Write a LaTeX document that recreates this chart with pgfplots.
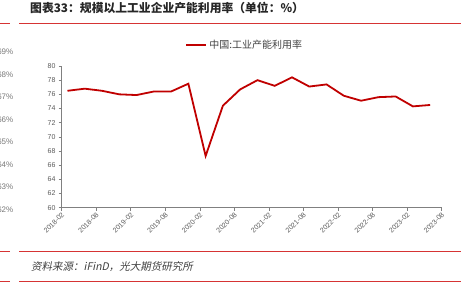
\documentclass[border=0pt]{standalone}
\usepackage{pgfplots}
\pgfplotsset{compat=1.18}
\usepackage{fontspec}
\setmainfont{Liberation Sans}
\newfontfamily\cjk{Noto Sans CJK SC}
\newfontfamily\cjkit{Noto Sans CJK SC}[FakeSlant=0.2]
\definecolor{linered}{RGB}{192,0,0}
\definecolor{hdrred}{RGB}{214,52,52}
\definecolor{axgrey}{RGB}{128,128,128}
\definecolor{txtgrey}{RGB}{89,89,89}
\definecolor{ghost}{RGB}{120,120,120}
\begin{document}
\begin{tikzpicture}[x=1pt,y=1pt]
% title and rules
\node[anchor=west, inner sep=0pt, font=\cjk\bfseries\fontsize{11.8}{12}\selectfont, text=black!85] at (30,276.5) {图表33：规模以上工业企业产能利用率（单位：\%）};
\draw[hdrred, line width=1.1pt] (0,260.5) -- (10,260.5);
\draw[hdrred, line width=1.1pt] (19,260.5) -- (461,260.5);
\draw[hdrred, line width=1.1pt] (0,32.5) -- (10,32.5);
\draw[hdrred, line width=1.1pt] (19,32.5) -- (461,32.5);
\draw[hdrred, line width=1.1pt] (0,2.5) -- (10,2.5);
\draw[hdrred, line width=1.1pt] (19,2.5) -- (461,2.5);
\node[anchor=west, inner sep=0pt, font=\cjkit\fontsize{10.5}{12}\selectfont, text=black!75] at (31,17.3) {资料来源：iFinD，光大期货研究所};
% leftover secondary labels, cut at the left edge
\foreach \yy/\lab in {232.3/69,209.7/68,187.3/67,164.7/66,142.3/65,119.7/64,97.3/63,74/62}{
  \node[anchor=east, inner sep=0pt, font=\fontsize{8}{9}\selectfont, text=ghost] at (13.5,\yy) {\lab\%};
}
\begin{axis}[
  at={(61.7pt,76.3pt)}, anchor=south west,
  scale only axis, width=380pt, height=141.7pt,
  xmin=0, xmax=66, ymin=60, ymax=80,
  axis x line*=bottom, axis y line*=left,
  axis line style={axgrey, line width=0.8pt},
  xtick={0,6,...,66},
  xticklabels={2018-02,2018-08,2019-02,2019-08,2020-02,2020-08,2021-02,2021-08,2022-02,2022-08,2023-02,2023-08},
  ytick={60,62,...,80},
  tick align=outside,
  major tick length=3pt,
  tick style={axgrey, line width=0.6pt},
  /pgf/number format/assume math mode=true,
  ticklabel style={font=\fontsize{7}{8}\selectfont, text=txtgrey},
  xticklabel style={rotate=45, anchor=east, inner sep=1pt, yshift=-3pt},
  yticklabel style={inner sep=1pt, xshift=-2pt},
  legend style={at={(0.482,1.148)}, anchor=center, draw=none, fill=none,
    font=\cjk\fontsize{10}{12}\selectfont, text=black!75},
  legend image code/.code={\draw[#1, line width=2pt] (0pt,0pt) -- (20pt,0pt);},
  clip=false,
]
\addplot[linered, line width=1.8pt, sharp plot] coordinates {
(1,76.5) (4,76.8) (7,76.5) (10,76.0) (13,75.9) (16,76.4) (19,76.4) (22,77.5)
(25,67.3) (28,74.4) (31,76.7) (34,78.0) (37,77.2) (40,78.4) (43,77.1) (46,77.4)
(49,75.8) (52,75.1) (55,75.6) (58,75.7) (61,74.3) (64,74.5)
};
\addlegendentry{中国:工业产能利用率}
\end{axis}
\pgfresetboundingbox
\useasboundingbox (0,0) rectangle (474,284);
\end{tikzpicture}
\end{document}
